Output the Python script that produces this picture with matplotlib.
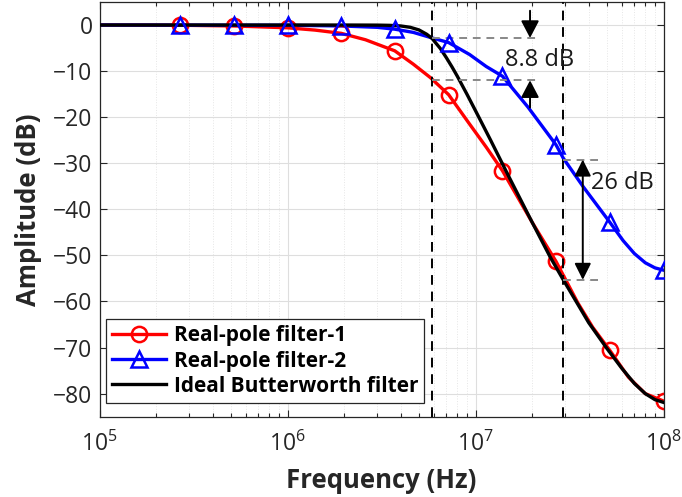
import matplotlib
matplotlib.use("Agg")
import matplotlib.pyplot as plt
from matplotlib.lines import Line2D
from matplotlib.ticker import LogLocator, FixedLocator, NullFormatter

plt.rcParams['font.family'] = ['Open Sans', 'DejaVu Sans']
plt.rcParams['mathtext.fontset'] = 'custom'
plt.rcParams['mathtext.rm'] = 'Open Sans'
plt.rcParams['axes.unicode_minus'] = True

# ---- data ----
freq_markers = [2.68e5, 5.18e5, 1.0e6, 1.93e6, 3.72e6, 7.19e6, 1.39e7, 2.68e7, 5.18e7, 1.0e8]
red_markers = [-0.05, -0.2, -0.6, -1.8, -5.6, -15.1, -31.6, -51.3, -70.6, -81.6]
blue_markers = [0.0, 0.0, -0.05, -0.2, -0.9, -3.8, -11.1, -26.0, -42.8, -53.2]

red_freq = [1e5, 2.68e5, 5.18e5, 1.0e6, 1.4e6, 1.93e6, 2.6e6, 3.72e6, 4.67e6, 5.75e6,
            7.19e6, 9.3e6, 1.14e7, 1.39e7, 2.0e7, 2.68e7, 3.5e7, 4.2e7, 5.18e7, 6.5e7,
            8.0e7, 1.0e8]
red_db = [0.0, -0.05, -0.2, -0.6, -1.1, -1.8, -3.2, -5.6, -8.5, -11.4,
          -15.1, -21.5, -26.5, -31.6, -42.8, -51.3, -60.3, -65.6, -70.6, -76.4,
          -80.0, -81.6]

blue_freq = [1e5, 1.0e6, 1.93e6, 3.0e6, 3.72e6, 4.67e6, 5.87e6, 7.19e6, 9.3e6, 1.14e7,
             1.39e7, 1.9e7, 2.68e7, 2.93e7, 3.74e7, 5.18e7, 6.1e7, 7.0e7, 8.0e7, 9.0e7, 1.0e8]
blue_db = [0.0, -0.05, -0.2, -0.5, -0.9, -1.6, -2.8, -3.8, -6.4, -9.0,
           -11.1, -17.8, -26.0, -28.9, -35.1, -42.8, -46.8, -49.6, -51.6, -52.7, -53.2]

black_freq = [1e5, 2e6, 3e6, 3.5e6, 4e6, 4.5e6, 5e6, 5.5e6, 5.87e6, 6.5e6, 7e6, 7.5e6,
              8e6, 9e6, 1e7, 1.2e7, 1.5e7, 2e7, 2.5e7, 2.93e7, 3.5e7, 4e7, 5e7, 6e7,
              7e7, 8e7, 9e7, 1e8]
black_db = [0.0, 0.0, -0.02, -0.07, -0.2, -0.5, -1.06, -2.0, -2.9, -5.1, -7.1, -9.1,
            -11.1, -15.0, -18.6, -24.9, -32.8, -42.8, -50.4, -55.3, -60.6, -64.6, -70.2, -74.5,
            -77.8, -80.0, -81.3, -81.9]

cutoff_lines = [5.87e6, 2.93e7]
labels = ['Real-pole filter-1', 'Real-pole filter-2', 'Ideal Butterworth filter']
y_ticks = [0, -10, -20, -30, -40, -50, -60, -70, -80]

# ---- figure ----
fig = plt.figure(figsize=(6.82, 4.97), dpi=100)
ax = fig.add_axes([0.1459, 0.1616, 0.8270, 0.8344])

axcol = '#262626'
ax.set_xscale('log')
ax.set_xlim(1e5, 1e8)
ax.set_ylim(-85, 5)

ax.grid(True, which='major', color='#dedede', linewidth=0.8, zorder=0)
ax.grid(True, which='minor', axis='x', color='#e6e6e6', linewidth=0.7, linestyle=':', zorder=0)
ax.set_axisbelow(True)

lw = 2.4
ax.plot(red_freq, red_db, color='red', lw=lw, zorder=2)
ax.plot(blue_freq, blue_db, color='blue', lw=lw, zorder=2.2)
ax.plot(freq_markers, red_markers, linestyle='none', marker='o', ms=11, mfc='none',
        mec='red', mew=1.8, zorder=2.5)
ax.plot(black_freq, black_db, color='black', lw=lw, zorder=3)
ax.plot(freq_markers, blue_markers, linestyle='none', marker='^', ms=11.5, mfc='none',
        mec='blue', mew=1.8, zorder=4)

for xv in cutoff_lines:
    ax.axvline(xv, color='black', lw=1.4, linestyle=(0, (5, 3.5)), zorder=3.5)

gray = '#888888'
# 8.8 dB guides
ax.plot([5.87e6, 2.15e7], [-2.8, -2.8], color=gray, lw=1.4, linestyle=(0, (4, 3)), zorder=3.5)
ax.plot([5.87e6, 2.15e7], [-12.0, -12.0], color=gray, lw=1.4, linestyle=(0, (4, 3)), zorder=3.5)
# 26 dB guides
ax.plot([2.93e7, 4.5e7], [-29.2, -29.2], color=gray, lw=1.4, linestyle=(0, (4, 3)), zorder=3.5)
ax.plot([2.93e7, 4.5e7], [-55.3, -55.3], color=gray, lw=1.4, linestyle=(0, (4, 3)), zorder=3.5)

ap = dict(arrowstyle='-|>,head_length=1.05,head_width=0.55', color='black', lw=1.4,
          shrinkA=0, shrinkB=0)
ax.annotate('', xy=(1.95e7, -2.8), xytext=(1.95e7, 3.1), arrowprops=ap, zorder=5)
ax.annotate('', xy=(1.95e7, -12.0), xytext=(1.95e7, -17.9), arrowprops=ap, zorder=5)
ap2 = dict(arrowstyle='<|-|>,head_length=1.0,head_width=0.5', color='black', lw=1.4,
           shrinkA=0, shrinkB=0)
ax.annotate('', xy=(3.72e7, -55.3), xytext=(3.72e7, -29.2), arrowprops=ap2, zorder=5)

ax.text(2.2e7, -7.6, '8.8 dB', fontsize=17, ha='center', va='center', color='#1a1a1a', zorder=6)
ax.text(4.1e7, -34.2, '26 dB', fontsize=17, ha='left', va='center', color='#1a1a1a', zorder=6)

ax.yaxis.set_major_locator(FixedLocator(y_ticks))
ax.xaxis.set_major_locator(LogLocator(base=10, numticks=10))
ax.xaxis.set_minor_locator(LogLocator(base=10, subs=range(2, 10), numticks=20))
ax.xaxis.set_minor_formatter(NullFormatter())

ax.tick_params(which='both', direction='in', top=True, right=True, colors=axcol,
               labelsize=16.5, width=0.8)
ax.tick_params(which='major', length=5)
ax.tick_params(which='minor', length=3)
ax.tick_params(axis='x', pad=11)
ax.tick_params(axis='y', pad=5)
for s in ax.spines.values():
    s.set_color(axcol)
    s.set_linewidth(0.9)

ax.set_xlabel('Frequency (Hz)', fontsize=18.5, fontweight='bold', color=axcol, labelpad=7)
ax.set_ylabel('Amplitude (dB)', fontsize=18.5, fontweight='bold', color=axcol, labelpad=8)

handles = [
    Line2D([], [], color='red', lw=lw, marker='o', ms=11, mfc='none', mec='red', mew=1.8),
    Line2D([], [], color='blue', lw=lw, marker='^', ms=11.5, mfc='none', mec='blue', mew=1.8),
    Line2D([], [], color='black', lw=lw),
]
leg = ax.legend(handles, labels, loc='lower left', bbox_to_anchor=(0.0115, 0.033),
                borderaxespad=0, fancybox=False, framealpha=1, edgecolor=axcol,
                prop={'weight': 'bold', 'size': 15}, handlelength=2.6,
                labelspacing=0.2, borderpad=0.3, handletextpad=0.35)
leg.get_frame().set_linewidth(0.9)
leg.set_zorder(10)

fig.savefig('out.png', dpi=100)
